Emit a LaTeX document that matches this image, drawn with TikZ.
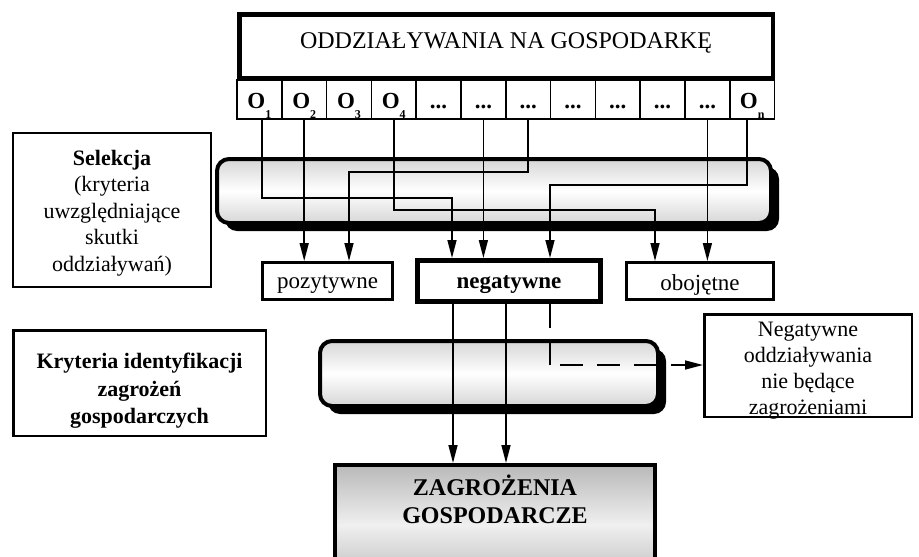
\documentclass[tikz,border=0pt]{standalone}
\usepackage{fontspec}
\setmainfont{Liberation Serif}
\usetikzlibrary{arrows.meta,shadows}

\newcommand{\setfs}[2]{\fontsize{#1}{#2}\selectfont}
\newcommand{\osub}[1]{O\raisebox{-10pt}{\setfs{12}{12}#1}}
\newcommand{\dotcell}{...}

\tikzset{
  framebox/.style={draw, line width=#1, inner sep=0pt, align=center},
  inlabel/.style={align=center, inner sep=0pt},
  cellbox/.style={draw, line width=1.6pt, minimum width=44.8pt, minimum height=39pt,
    inner sep=0pt, text height=17pt, text depth=0pt, font=\bfseries\setfs{23}{23}},
  pillow/.style={draw, line width=4pt, rounded corners=12pt,
    top color=gray!32, bottom color=gray!32, middle color=white,
    drop shadow={shadow xshift=8pt, shadow yshift=-8pt, fill=black, opacity=1}},
  conn/.style={line width=1.5pt, -{Triangle[length=18pt,width=9pt]}},
  plain/.style={line width=1.5pt}
}

\begin{document}
\begin{tikzpicture}[x=1pt, y=-1pt]
    \useasboundingbox (0,0) rectangle (919,557);
    \clip (0,0) rectangle (919,557);

    % effects on the economy
    \foreach \lab [count=\i] in {\osub{1},\osub{2},\osub{3},\osub{4},\dotcell,\dotcell,\dotcell,\dotcell,\dotcell,\dotcell,\dotcell,\osub{n}}
        \node[cellbox] (c\i) at ({237+44.8*(\i-0.5)},99.5) {\lab};
    \node[framebox=4.5pt, minimum width=533.5pt, minimum height=63.5pt,
        text height=16pt, text depth=12pt, font=\setfs{24}{28}] (top) at (506,46)
        {ODDZIAŁYWANIA NA GOSPODARKĘ};

    % side descriptions
    \node[framebox=2pt, minimum width=198pt, minimum height=154pt,
        label={[name=seltext, inlabel, yshift=-3pt, font=\setfs{22}{26.5}]center:\textbf{Selekcja}\\(kryteria\\uwzględniające\\skutki\\oddziaływań)}]
        (sel) at (112,210) {};
    \node[framebox=2.5pt, minimum width=252.5pt, minimum height=105.5pt,
        label={[name=krytext, inlabel, yshift=-8pt, font=\bfseries\setfs{22}{27.5}]center:Kryteria identyfikacji\\zagrożeń\\gospodarczych}]
        (kry) at (139.5,383) {};
    \node[framebox=2.5pt, minimum width=207.5pt, minimum height=102.5pt,
        label={[name=neotext, inlabel, yshift=-5pt, font=\setfs{22}{26}]center:Negatywne\\oddziaływania\\nie będące\\zagrożeniami}]
        (neo) at (808,365.5) {};

    % filters
    \node[pillow, minimum width=554pt, minimum height=64pt] (filt1) at (494,191) {};
    \node[pillow, minimum width=338pt, minimum height=65pt] (filt2) at (489,373.5) {};

    % groups
    \node[framebox=3pt, minimum width=130pt, minimum height=37pt,
        label={[name=postext, inlabel, yshift=-4pt, font=\setfs{23}{23}]center:pozytywne}]
        (pos) at (327.5,281) {};
    \node[framebox=5pt, minimum width=183pt, minimum height=41pt,
        label={[name=negtext, inlabel, yshift=-4pt, font=\bfseries\setfs{23}{23}]center:negatywne}]
        (neg) at (509,281) {};
    \node[framebox=3pt, minimum width=147pt, minimum height=37pt,
        label={[name=obotext, inlabel, yshift=-4pt, font=\setfs{23}{23}]center:obojętne}]
        (obo) at (700,281) {};

    % threats
    \node[draw, line width=4pt, minimum width=320pt, minimum height=120pt, anchor=north,
        top color=gray!55, bottom color=gray!55, middle color=gray!12,
        label={[name=zagtext, anchor=north, yshift=-8pt, align=center,
            font=\bfseries\setfs{24}{28}]north:ZAGROŻENIA\\GOSPODARCZE}]
        (zag) at (495,463) {};

    % bends
    \coordinate (b1) at (452,198);
    \coordinate (b4) at (655,210);
    \coordinate (b7) at (349,172);
    \coordinate (b12) at (550,185);
    \coordinate (d1) at (453,0);
    \coordinate (d2) at (506,0);
    \coordinate (g1) at (550,328);
    \coordinate (g2) at (550,343);
    \coordinate (g3) at (550,365);

    \draw[conn] ([xshift=2.6pt]c1.south) |- (b1) -- (b1 |- neg.north);
    \draw[conn] (c2.south) -- (c2.south |- pos.north);
    \draw[conn] (c4.south) |- (b4) -- (b4 |- obo.north);
    \draw[conn] (c6.south) -- (c6.south |- neg.north);
    \draw[conn] (c7.south) |- (b7) -- (b7 |- pos.north);
    \draw[conn] (c11.south) -- (c11.south |- obo.north);
    \draw[conn] ([xshift=-5pt]c12.south) |- (b12) -- (b12 |- neg.north);

    \draw[conn] (d1 |- neg.south) -- (d1 |- zag.north);
    \draw[conn] (d2 |- neg.south) -- (d2 |- zag.north);
    \draw[plain] (g1 |- neg.south) -- (g1);
    \draw[plain] (g2) -- (g3);
    \draw[conn, dash pattern=on 23pt off 14pt, dash phase=27pt] (g3) -- (g3 -| neo.west);
\end{tikzpicture}
\end{document}
